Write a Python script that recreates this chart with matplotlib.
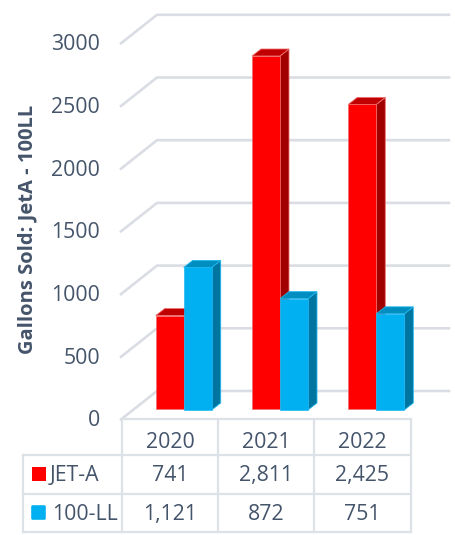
import matplotlib
matplotlib.use("Agg")
import matplotlib.pyplot as plt
from matplotlib.patches import Rectangle, FancyBboxPatch
from matplotlib.transforms import Affine2D

years = ["2020", "2021", "2022"]
jet_a = [741, 2811, 2425]
ll100 = [1121, 872, 751]
jet_labels = ["741", "2,811", "2,425"]
ll_labels = ["1,121", "872", "751"]
ticks = [0, 500, 1000, 1500, 2000, 2500, 3000]
series_names = ["JET-A", "100-LL"]

W, H = 456, 535
PXV = 0.1254      # pixels per gallon
PXC = 96.3        # pixels per category
X0 = 184.0        # pixel centre of the first category
Y0 = 408.5        # pixel of zero on the bars' front
TXT = "#44546A"
GRID = "#DADDE3"
LINE = "#DDE1E8"
FONT = "Open Sans"
FS = 15.3
TY = 1.5          # text baseline nudge, pixels

fig = plt.figure(figsize=(W / 100, H / 100), dpi=100)
ax = fig.add_axes([0, 0, 1, 1])
ax.set_xlim(-X0 / PXC, (W - X0) / PXC)
ax.set_ylim((Y0 - H) / PXV, Y0 / PXV)
ax.axis("off")
px = Affine2D().scale(1 / W, -1 / H).translate(0, 1) + fig.transFigure


def dx(p):
    return p / PXC


def dy(p):
    return p / PXV


# gridlines on side wall and back wall
for t in ticks:
    back = t + dy(Y0 - 391)
    ax.plot([dx(121 - X0), dx(157 - X0), dx(449 - X0)],
            [t + dy(Y0 - 419.5), back, back],
            color=GRID, lw=1.9, solid_joinstyle="miter", zorder=1)
    ax.text(dx(100 - X0), t + dy(Y0 - 419.5 - TY), f"{t}", ha="right", va="center",
            color=TXT, fontsize=FS, family=FONT)

BW = dx(28)
DX, DY = dx(9), dy(7)


def bar3d(xs, vals, base, pad, front, side, top, edge, z):
    for x, v in zip(xs, vals):
        l, r = x, x + BW
        b = base
        t = base + v + pad
        ax.fill([r, r + DX, r + DX, r], [b, b + DY, t + DY, t],
                facecolor=side, edgecolor=edge, lw=0.6, zorder=z)
        ax.fill([l, l + DX, r + DX, r], [t, t + DY, t + DY, t],
                facecolor=top, edgecolor=edge, lw=0.6, zorder=z)
    ax.bar([x + BW / 2 for x in xs], [v + pad for v in vals], width=BW, bottom=base,
           color=front, edgecolor=edge, linewidth=0.5, zorder=z + 0.1)


cats = list(range(len(years)))
bar3d([c - BW - dx(0.3) for c in cats], jet_a, 0, 0, "#FF0000", "#A00000", "#C00000", "#F07070", 3)
bar3d([c - dx(0.3) for c in cats], ll100, dy(-1.5), dy(2), "#00B0F0", "#00759F", "#008DC0", "#20B8F0", 4)

ax.text(27, 229, "Gallons Sold: JetA - 100LL", transform=px, rotation=90,
        ha="center", va="center", color=TXT, fontsize=14.5,
        fontweight="bold", family=FONT)

# data table
col_edges = [122, 218, 314, 411]
row_edges = [419, 455, 494, 532]
for y in row_edges:
    ax.plot([122 if y == 419 else 23, 411], [y, y], transform=px, color=LINE, lw=1.6, zorder=2)
for x in col_edges:
    ax.plot([x, x], [419, 532], transform=px, color=LINE, lw=1.6, zorder=2)
ax.plot([23, 23], [455, 532], transform=px, color=LINE, lw=1.6, zorder=2)

centers = [(col_edges[i] + col_edges[i + 1]) / 2 for i in range(3)]
for cx, yr, a, b in zip(centers, years, jet_labels, ll_labels):
    ax.text(cx, 441 + TY, yr, transform=px, ha="center", va="center", color=TXT, fontsize=FS, family=FONT)
    ax.text(cx, 474 + TY, a, transform=px, ha="center", va="center", color=TXT, fontsize=FS, family=FONT)
    ax.text(cx, 513 + TY, b, transform=px, ha="center", va="center", color=TXT, fontsize=FS, family=FONT)

ax.add_patch(Rectangle((32, 467), 14, 14, transform=px, facecolor="#FF0000", edgecolor="none", zorder=3))
ax.add_patch(FancyBboxPatch((32, 506), 13, 13, boxstyle="round,pad=0.8,rounding_size=1.5",
                            transform=px, facecolor="#00B0F0", edgecolor="none", zorder=3))
ax.text(50, 474 + TY, series_names[0], transform=px, ha="left", va="center", color=TXT, fontsize=FS, family=FONT)
ax.text(52, 513 + TY, series_names[1], transform=px, ha="left", va="center", color=TXT, fontsize=FS, family=FONT)

fig.savefig("out.png", dpi=100)
